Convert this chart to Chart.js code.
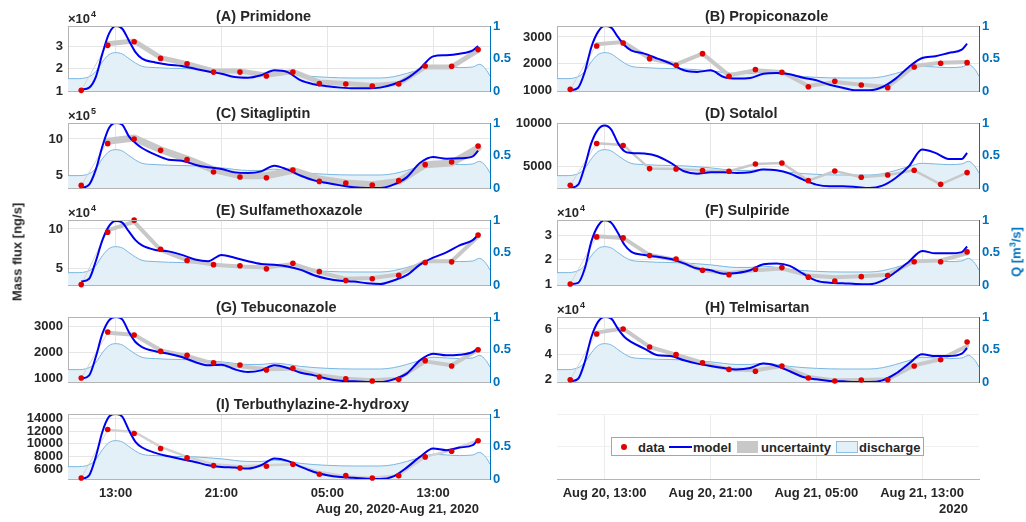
<!DOCTYPE html>
<html>
<head>
<meta charset="utf-8">
<script src="https://cdn.jsdelivr.net/npm/chart.js@4.4.1/dist/chart.umd.min.js"></script>
<style>
body { margin: 0; width: 1026px; height: 522px; position: relative; overflow: hidden; background: #fff;
       font-family: "Liberation Sans", Arial, Helvetica, sans-serif; }
canvas { position: absolute; z-index: 1; }
.txt { position: absolute; z-index: 3; font-weight: bold; font-size: 13px; line-height: 15px; white-space: nowrap; color: #262626; }
.rot { transform: translate(-50%, -50%) rotate(-90deg); }
.mark { position: absolute; z-index: 3; }
.box { z-index: 2; }
</style>
</head>
<body>

<div class="txt rot" style="left:17px; top:252px;">Mass flux [ng/s]</div>
<div class="txt rot" style="left:1016px; top:252px; color:#0072bd;">Q [m<sup style="font-size:9px; line-height:0;">3</sup>/s]</div>

<div class="mark box" style="left:611px; top:437px; width:313px; height:19px; border:1px solid #a6a6a6; box-sizing:border-box; background:#fff;"></div>
<div class="mark" style="left:621px; top:444px; width:6px; height:6px; border-radius:50%; background:#e00000;"></div>
<div class="txt" style="left:638px; top:440px;">data</div>
<div class="mark" style="left:669px; top:446px; width:23px; height:2px; background:#0000f0;"></div>
<div class="txt" style="left:693px; top:440px;">model</div>
<div class="mark" style="left:737px; top:441px; width:21px; height:12px; background:#c8c8c8;"></div>
<div class="txt" style="left:761px; top:440px;">uncertainty</div>
<div class="mark" style="left:836px; top:441px; width:22px; height:12px; background:#e4f0f8; border:1px solid #8cc0e2; box-sizing:border-box;"></div>
<div class="txt" style="left:859px; top:440px;">discharge</div>

<script>
// sampling times in hours since Aug 20, 00:00
var sampleTimes = [10.4, 12.4, 14.4, 16.4, 18.4, 20.4, 22.4, 24.4, 26.4, 28.4, 30.4, 32.4, 34.4, 36.4, 38.4, 40.4];
var modelTimes = [10.4, 11, 11.5, 12, 12.5, 13, 13.5, 14, 14.5, 15, 16, 17, 18, 19, 20, 21, 22, 23, 24, 25,
                  26, 27, 28, 29, 30, 31, 32, 33, 34, 35, 36, 37, 38, 39, 40, 40.4];
var dischargeTimes = [9.4, 10, 11, 11.5, 12, 12.5, 13, 13.5, 14, 14.5, 15, 16, 17, 19, 21, 23, 24, 25, 26, 27,
                      29, 31, 33, 34, 35, 36, 37, 38, 39, 40, 40.5, 41, 41.3];
var discharge = [0.19, 0.19, 0.22, 0.3, 0.45, 0.56, 0.59, 0.57, 0.5, 0.43, 0.38, 0.36, 0.35, 0.34, 0.31, 0.27, 0.27, 0.29, 0.27, 0.24,
                 0.21, 0.2, 0.2, 0.22, 0.27, 0.33, 0.38, 0.37, 0.36, 0.37, 0.41, 0.33, 0.23];

var xTicks = [13, 21, 29, 37];
var timeLabels = ['13:00', '21:00', '05:00', '13:00'];
var dateLabels = ['Aug 20, 13:00', 'Aug 20, 21:00', 'Aug 21, 05:00', 'Aug 21, 13:00'];
var qTicks = [0, 0.5, 1];

// (A) Primidone, x10^4
var dataA = [1.03, 3.03, 3.19, 2.45, 2.21, 1.84, 1.84, 1.67, 1.84, 1.33, 1.31, 1.22, 1.31, 2.11, 2.10, 2.84];
var bandA = [1.03, 3.1, 3.22, 2.48, 2.21, 1.89, 1.89, 1.70, 1.87, 1.40, 1.33, 1.25, 1.33, 2.07, 2.07, 2.81];
var modelA = [1.06, 1.15, 1.62, 2.66, 3.55, 3.89, 3.77, 3.25, 2.73, 2.44, 2.27, 2.17, 2.11, 1.99, 1.87, 1.77, 1.62, 1.59, 1.70, 1.92,
              1.84, 1.47, 1.30, 1.21, 1.15, 1.12, 1.12, 1.15, 1.30, 1.55, 1.99, 2.54, 2.59, 2.66, 2.81, 3.0];
var rangeA = [1, 3.89];
var ticksA = [1, 2, 3];

// (B) Propiconazole
var dataB = [1037, 2662, 2775, 2187, 1937, 2375, 1525, 1775, 1675, 1137, 1337, 1200, 1100, 1875, 2012, 2037];
var bandB = [1037, 2725, 2812, 2187, 1975, 2375, 1562, 1750, 1687, 1162, 1312, 1212, 1125, 1912, 2037, 2062];
var modelB = [1000, 1100, 1690, 2625, 3190, 3410, 3350, 3000, 2690, 2500, 2375, 2190, 2000, 1750, 1690, 1750, 1500, 1440, 1460, 1625,
              1650, 1600, 1475, 1375, 1210, 1100, 1000, 1000, 1125, 1440, 1875, 2210, 2275, 2400, 2525, 2750];
var rangeB = [975, 3410];
var ticksB = [1000, 2000, 3000];

// (C) Sitagliptin, x10^5
var dataC = [3.62, 9.36, 10.0, 8.44, 7.16, 5.46, 4.77, 4.68, 5.73, 4.17, 3.94, 3.67, 4.27, 6.47, 6.83, 9.04];
var bandC = [3.62, 9.68, 10.14, 8.53, 7.25, 5.78, 4.95, 4.95, 5.69, 4.5, 3.94, 3.72, 4.17, 6.47, 6.7, 8.76];
var modelC = [3.26, 3.72, 5.78, 8.99, 11.5, 12.2, 11.97, 10.37, 9.45, 8.76, 7.84, 7.16, 7.02, 6.47, 6.1, 5.87, 5.41, 5.32, 5.55, 6.33,
              5.78, 4.95, 4.31, 3.94, 3.62, 3.35, 3.26, 3.26, 3.72, 4.72, 6.7, 7.52, 7.29, 7.34, 7.61, 8.39];
var rangeC = [3.26, 12.2];
var ticksC = [5, 10];

// (D) Sotalol
var dataD = [2774, 7656, 7422, 4727, 4688, 4492, 4414, 5273, 5391, 3320, 4453, 3711, 3984, 4531, 2891, 4258];
var bandD = [2774, 7700, 7500, 4727, 4688, 4492, 4414, 5273, 5391, 3320, 4453, 3711, 3984, 4531, 2891, 4258];
var modelD = [2461, 2852, 5000, 7734, 9297, 9766, 9297, 7734, 6758, 6562, 6484, 6172, 5390, 4414, 4140, 4297, 4297, 4219, 4297, 4609,
              4531, 4140, 3437, 2852, 2656, 2656, 2578, 2460, 2734, 3633, 5000, 6953, 6562, 5860, 5860, 6562];
var rangeD = [2460, 10060];
var ticksD = [5000, 10000];

// (E) Sulfamethoxazole, x10^4
var dataE = [3.03, 9.6, 11.1, 7.46, 6.05, 5.53, 5.39, 5.0, 5.7, 4.65, 3.55, 3.77, 4.21, 5.79, 5.88, 9.25];
var bandE = [3.03, 9.82, 10.9, 7.37, 6.05, 5.53, 5.3, 5.18, 5.61, 4.56, 3.77, 3.86, 4.3, 5.96, 5.96, 9.04];
var modelE = [3.42, 3.77, 5.96, 8.6, 10.35, 11.0, 10.79, 9.69, 8.6, 7.94, 7.37, 7.19, 6.75, 6.18, 5.96, 6.75, 6.4, 5.96, 5.61, 5.53,
              5.31, 4.87, 4.21, 3.77, 3.51, 3.42, 3.2, 3.11, 3.55, 4.21, 5.53, 6.4, 7.06, 7.94, 8.6, 9.25];
var rangeE = [2.98, 11.12];
var ticksE = [5, 10];

// (F) Sulpiride, x10^4
var dataF = [1.01, 2.93, 2.89, 2.17, 2.03, 1.57, 1.39, 1.61, 1.68, 1.29, 1.13, 1.31, 1.36, 1.92, 1.92, 2.32];
var bandF = [1.01, 2.96, 2.89, 2.19, 1.99, 1.57, 1.46, 1.57, 1.64, 1.36, 1.29, 1.33, 1.39, 1.94, 1.97, 2.26];
var modelF = [1.01, 1.06, 1.64, 2.75, 3.38, 3.61, 3.51, 3.1, 2.61, 2.33, 2.19, 2.12, 2.03, 1.85, 1.64, 1.57, 1.43, 1.46, 1.57, 1.82,
              1.85, 1.75, 1.43, 1.15, 1.06, 1.04, 1.01, 1.0, 1.15, 1.5, 1.92, 2.36, 2.26, 2.26, 2.31, 2.54];
var rangeF = [0.97, 3.62];
var ticksF = [1, 2, 3];

// (G) Tebuconazole
var dataG = [1025, 2784, 2669, 2045, 1892, 1611, 1522, 1331, 1395, 1064, 1000, 911, 975, 1688, 1484, 2108];
var bandG = [1025, 2758, 2682, 2083, 1866, 1573, 1471, 1357, 1382, 1127, 1000, 936, 1000, 1662, 1510, 2108];
var modelG = [1000, 1127, 1828, 2720, 3230, 3357, 3268, 2784, 2401, 2210, 2045, 1955, 1828, 1637, 1510, 1535, 1357, 1255, 1318, 1510,
              1408, 1229, 1127, 1000, 924, 898, 873, 873, 975, 1191, 1700, 1955, 1892, 1917, 2019, 2172];
var rangeG = [873, 3357];
var ticksG = [1000, 2000, 3000];

// (H) Telmisartan, x10^4
var dataH = [1.97, 5.6, 6.0, 4.57, 3.96, 3.32, 2.79, 2.64, 3.06, 2.11, 1.87, 1.95, 1.97, 3.06, 3.56, 4.97];
var bandH = [1.97, 5.71, 6.03, 4.57, 3.96, 3.32, 2.79, 2.72, 3.06, 2.19, 1.92, 1.95, 2.0, 3.11, 3.59, 4.65];
var modelH = [1.84, 2.05, 3.38, 5.36, 6.56, 6.95, 6.82, 6.03, 5.36, 4.97, 4.44, 3.91, 3.85, 3.51, 3.25, 3.06, 2.9, 2.79, 2.9, 3.25,
              3.06, 2.64, 2.19, 2.0, 1.87, 1.84, 1.79, 1.79, 1.92, 2.45, 3.25, 3.99, 3.85, 3.85, 4.04, 4.49];
var rangeH = [1.79, 6.95];
var ticksH = [2, 4, 6];

// (I) Terbuthylazine-2-hydroxy
var dataI = [4560, 12293, 11653, 9253, 7760, 6533, 6160, 6427, 6747, 5147, 4933, 4560, 4933, 7920, 8827, 10480];
var bandI = [4560, 12187, 11920, 9520, 7920, 6747, 6427, 6587, 6747, 5520, 4827, 4613, 4987, 7920, 8987, 10587];
var modelI = [4400, 4987, 7920, 11920, 14320, 14750, 14320, 12187, 10320, 9413, 8560, 8027, 7547, 7120, 6587, 6320, 6213, 6053, 6587, 7653,
              7280, 6320, 5520, 4987, 4720, 4613, 4453, 4400, 4827, 6213, 7920, 9253, 8987, 9413, 9787, 10693];
var rangeI = [4400, 14750];
var ticksI = [6000, 8000, 10000, 12000, 14000];

var panels = [
    {title: '(A) Primidone', exp: 4, data: dataA, band: bandA, model: modelA, range: rangeA, ticks: ticksA, col: 0, row: 0, bw: 5},
    {title: '(B) Propiconazole', exp: 0, data: dataB, band: bandB, model: modelB, range: rangeB, ticks: ticksB, col: 1, row: 0, bw: 4},
    {title: '(C) Sitagliptin', exp: 5, data: dataC, band: bandC, model: modelC, range: rangeC, ticks: ticksC, col: 0, row: 1, bw: 7},
    {title: '(D) Sotalol', exp: 0, data: dataD, band: bandD, model: modelD, range: rangeD, ticks: ticksD, col: 1, row: 1, bw: 2.5},
    {title: '(E) Sulfamethoxazole', exp: 4, data: dataE, band: bandE, model: modelE, range: rangeE, ticks: ticksE, col: 0, row: 2, bw: 4},
    {title: '(F) Sulpiride', exp: 4, data: dataF, band: bandF, model: modelF, range: rangeF, ticks: ticksF, col: 1, row: 2, bw: 4},
    {title: '(G) Tebuconazole', exp: 0, data: dataG, band: bandG, model: modelG, range: rangeG, ticks: ticksG, col: 0, row: 3, bw: 4},
    {title: '(H) Telmisartan', exp: 4, data: dataH, band: bandH, model: modelH, range: rangeH, ticks: ticksH, col: 1, row: 3, bw: 4},
    {title: '(I) Terbuthylazine-2-hydroxy', exp: 0, data: dataI, band: bandI, model: modelI, range: rangeI, ticks: ticksI, col: 0, row: 4, bw: 2.5}
];

Chart.defaults.font.family = '"Liberation Sans", Arial, Helvetica, sans-serif';
Chart.defaults.font.size = 13;
Chart.defaults.font.weight = 'bold';
Chart.defaults.color = '#262626';

var FONT = '"Liberation Sans", Arial, Helvetica, sans-serif';
var rowTops = [26, 123, 220, 317, 414];
var gridColor = '#e6e6e6';
var boxColor = '#b4b4b4';

function points(xs, ys) {
    return xs.map(function(x, i) { return {x: x, y: ys[i]}; });
}

function setTicks(vals) {
    return function(s) { s.ticks = vals.map(function(v) { return {value: v}; }); };
}

/*
 * Builds one canvas and chart; p is a panel spec or null for the legend/axis panel
 */
function makeChart(p, col, row) {
    var last = row === 4;
    var cv = document.createElement('canvas');
    var cx = col === 0 ? 0 : 515;
    var cw = col === 0 ? 515 : 511;
    var ch = last ? 134 : 95;
    var cy = rowTops[row] - 26;
    cv.width = cw;
    cv.height = ch;
    cv.style.left = cx + 'px';
    cv.style.top = cy + 'px';
    document.body.appendChild(cv);

    var lw = col === 0 ? 68 : 42;
    var rw = cw - lw - 422;
    var xh = last ? 43 : 0;
    var xLabels = col === 0 ? timeLabels : dateLabels;

    var scales = {
        x: {
            type: 'linear', position: 'bottom', min: 9.4, max: 41.3,
            afterBuildTicks: setTicks(xTicks),
            afterFit: function(s) { s.height = xh; s.paddingLeft = 0; s.paddingRight = 0; },
            grid: {color: gridColor, drawTicks: false},
            border: {color: boxColor},
            ticks: {display: last, padding: 7, autoSkip: false, maxRotation: 0,
                    callback: function(v, i) { return xLabels[i]; }}
        }
    };
    var datasets = [];
    var caption = null;
    if (last) caption = col === 0 ? ['Aug 20, 2020-Aug 21, 2020', 479] : ['2020', 453];

    if (p) {
        scales.y = {
            position: 'left', min: p.range[0], max: p.range[1],
            afterBuildTicks: setTicks(p.ticks),
            afterFit: function(s) { s.width = lw; s.paddingTop = 0; s.paddingBottom = 0; },
            grid: {color: gridColor, drawTicks: false},
            border: {color: boxColor},
            ticks: {padding: 5, autoSkip: false, callback: function(v) { return String(v); }}
        };
        scales.q = {
            position: 'right', min: 0, max: 1,
            afterBuildTicks: setTicks(qTicks),
            afterFit: function(s) { s.width = rw; s.paddingTop = 0; s.paddingBottom = 0; },
            grid: {display: false, drawTicks: false},
            border: {color: '#0072bd'},
            ticks: {padding: 3, autoSkip: false, color: '#0072bd', callback: function(v) { return String(v); }}
        };
        datasets = [
            {label: 'data', data: points(sampleTimes, p.data), yAxisID: 'y', showLine: false,
             pointRadius: 2.8, pointBorderWidth: 0, pointBackgroundColor: '#e00000', clip: false},
            {label: 'model', data: points(modelTimes, p.model), yAxisID: 'y', borderColor: '#0000f0',
             borderWidth: 2, pointRadius: 0, cubicInterpolationMode: 'monotone'},
            {label: 'uncertainty', data: points(sampleTimes, p.band), yAxisID: 'y',
             borderColor: row === 4 ? '#d2d2d2' : '#c8c8c8', borderWidth: p.bw, pointRadius: 0,
             borderJoinStyle: 'round', borderCapStyle: 'round',
             segment: {
                 borderWidth: function(ctx) { return ctx.p0DataIndex === 0 ? 1 : undefined; },
                 borderColor: function(ctx) { return ctx.p0DataIndex === 0 ? '#d4d4d4' : undefined; }
             }},
            {label: 'discharge', data: points(dischargeTimes, discharge), yAxisID: 'q',
             borderColor: '#7ab7e0', borderWidth: 1, backgroundColor: '#e4f0f8', fill: 'origin',
             pointRadius: 0, cubicInterpolationMode: 'monotone'}
        ];
    } else {
        scales.y = {
            position: 'left', min: 0, max: 1,
            afterBuildTicks: setTicks(qTicks),
            afterFit: function(s) { s.width = lw; s.paddingTop = 0; s.paddingBottom = 0; },
            grid: {color: '#f0f0f0', drawTicks: false},
            border: {display: false},
            ticks: {display: false}
        };
        scales.x.grid.color = '#ececec';
    }

    var deco = {
        id: 'deco',
        afterDraw: function(chart) {
            var ctx = chart.ctx, a = chart.chartArea;
            ctx.save();
            if (p) {
                ctx.strokeStyle = boxColor;
                ctx.lineWidth = 1;
                ctx.beginPath();
                ctx.moveTo(a.left, a.top + 0.5);
                ctx.lineTo(a.right, a.top + 0.5);
                ctx.stroke();
                ctx.fillStyle = '#262626';
                ctx.textAlign = 'left';
                ctx.textBaseline = 'alphabetic';
                ctx.font = 'bold 14.5px ' + FONT;
                ctx.fillText(p.title, a.left + 148, a.top - 5);
                if (p.exp) {
                    ctx.font = 'bold 13px ' + FONT;
                    ctx.fillText('\u00d710', a.left, a.top - 3.5);
                    var w = ctx.measureText('\u00d710').width;
                    ctx.font = 'bold 9px ' + FONT;
                    ctx.fillText(String(p.exp), a.left + w + 1, a.top - 9);
                }
            }
            if (caption) {
                ctx.fillStyle = '#262626';
                ctx.font = 'bold 13px ' + FONT;
                ctx.textAlign = 'right';
                ctx.textBaseline = 'alphabetic';
                ctx.fillText(caption[0], caption[1], 125);
            }
            ctx.restore();
        }
    };

    new Chart(cv, {
        type: 'line',
        data: {datasets: datasets},
        options: {
            responsive: false,
            animation: false,
            events: [],
            layout: {padding: {top: 26, bottom: last ? 0 : 4, left: 0, right: p ? 0 : rw}},
            scales: scales,
            plugins: {legend: {display: false}, tooltip: {enabled: false}, title: {display: false}}
        },
        plugins: [deco]
    });
}

panels.forEach(function(p) { makeChart(p, p.col, p.row); });
makeChart(null, 1, 4);
</script>
</body>
</html>
